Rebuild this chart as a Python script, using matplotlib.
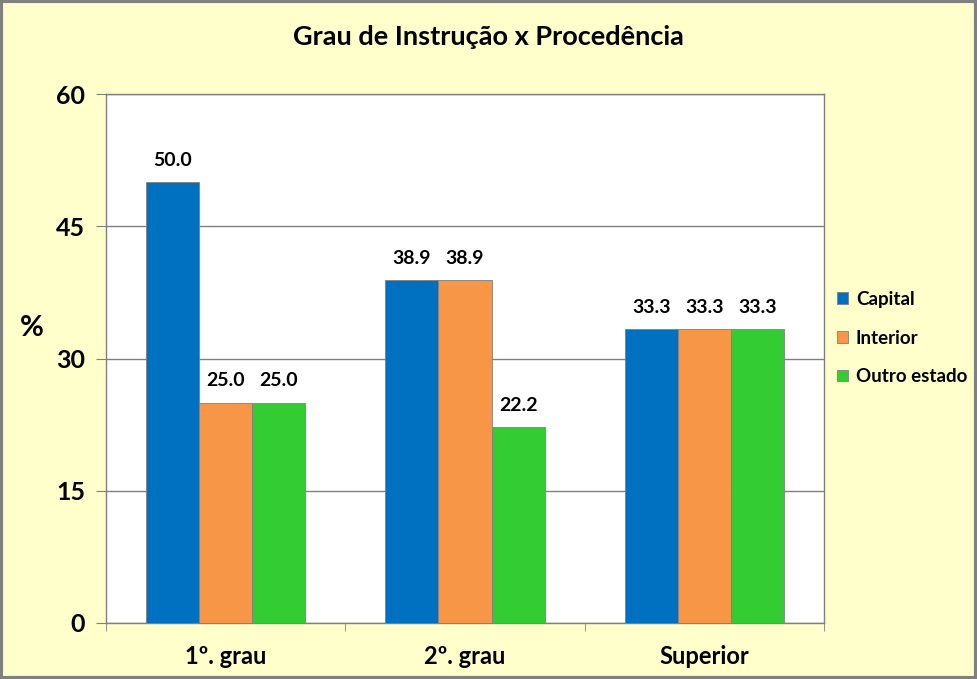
import numpy as np
import matplotlib.pyplot as plt
from matplotlib.patches import Rectangle

# dados
categorias = ['1º. grau', '2º. grau', 'Superior']
capital = [50.0, 38.9, 33.3]
interior = [25.0, 38.9, 33.3]
outro_estado = [25.0, 22.2, 33.3]
series = ['Capital', 'Interior', 'Outro estado']
cores = ['#0070C0', '#F79646', '#33CC33']
yticks = [0, 15, 30, 45, 60]

plt.rcParams['font.family'] = ['Lato', 'DejaVu Sans']
plt.rcParams['font.weight'] = 'bold'

fig = plt.figure(figsize=(9.77, 6.79), dpi=100, facecolor='#FFFFCC')
ax = fig.add_axes([106/977, 1-623/679, 718/977, 529/679])

x = np.arange(len(categorias))
w = 0.222
valores = [capital, interior, outro_estado]
for i, (vals, nome, cor) in enumerate(zip(valores, series, cores)):
    pos = x + (i - 1) * w
    barras = ax.bar(pos, vals, w, color=cor, edgecolor='#808080', linewidth=0.6, label=nome, zorder=3)
    for b, v in zip(barras, vals):
        ax.text(b.get_x() + b.get_width()/2, v + 1.5, '%.1f' % v, ha='center', va='bottom',
                fontsize=14, fontweight='bold')

ax.set_xlim(-0.5, 2.5)
ax.set_ylim(0, 60)
ax.set_yticks(yticks)
ax.set_yticklabels([str(t) for t in yticks], fontsize=18, fontweight='bold')
ax.set_xticks(x)
ax.set_xticklabels(categorias, fontsize=17, fontweight='bold')
ax.set_xticks([-0.5, 0.5, 1.5, 2.5], minor=True)
ax.tick_params(axis='x', which='major', length=0, pad=16)
ax.tick_params(axis='x', which='minor', length=6, color='#808080', direction='out')
ax.tick_params(axis='y', length=7, color='#808080', direction='out', pad=8)
ax.grid(axis='y', color='#808080', linewidth=1, zorder=0)
for s in ax.spines.values():
    s.set_color('#808080')
    s.set_linewidth(1)

fig.text(32/977, 1-328/679, '%', fontsize=21, fontweight='bold', ha='center', va='center')
fig.text(488/977, 1-37/679, 'Grau de Instrução x Procedência', fontsize=19.5, fontweight='bold',
         ha='center', va='center')

leg = ax.legend(loc='center left', bbox_to_anchor=(1.0, 1-(338-94)/529), frameon=False, fontsize=13.5,
                handlelength=0.6, handleheight=0.6, handletextpad=0.4, labelspacing=1.15,
                borderaxespad=0.3)

fig.patches.append(Rectangle((0.0015, 0.002), 0.997, 0.996, transform=fig.transFigure,
                             fill=False, edgecolor='#808080', linewidth=3))

fig.savefig('out.png', dpi=100, facecolor=fig.get_facecolor())
